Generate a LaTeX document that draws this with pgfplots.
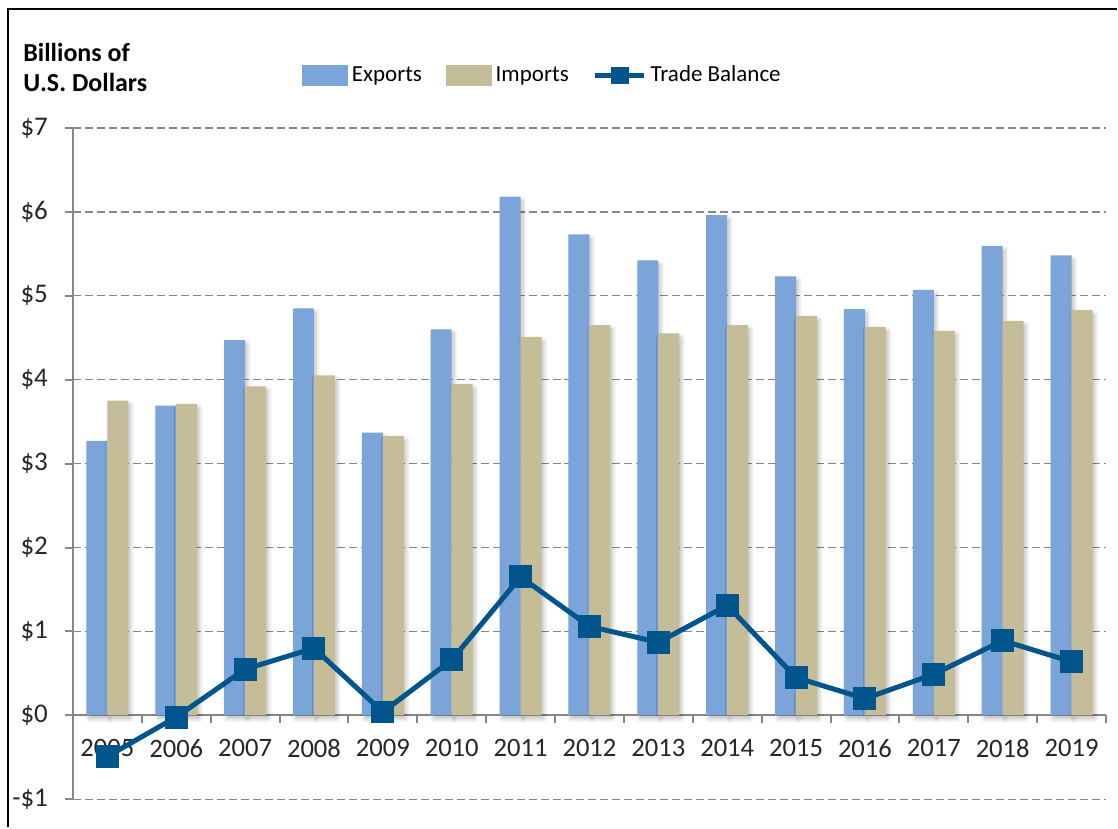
\documentclass[border=0pt]{standalone}
\usepackage{pgfplots}
\pgfplotsset{compat=1.18}
\usepackage{pgfplotstable}
\usetikzlibrary{shadows.blur}
\usepackage{fontspec}
\setmainfont{Carlito}
\definecolor{expc}{HTML}{7BA5D9}
\definecolor{impc}{HTML}{C4BD97}
\definecolor{balc}{HTML}{00558C}
\definecolor{axc}{HTML}{878787}
\pgfplotstableread{
x exp imp bal
0 3.27 3.75 -0.49
1 3.69 3.71 -0.02
2 4.47 3.92 0.55
3 4.85 4.05 0.80
4 3.37 3.33 0.04
5 4.60 3.95 0.66
6 6.18 4.51 1.65
7 5.73 4.65 1.06
8 5.42 4.55 0.87
9 5.96 4.65 1.31
10 5.23 4.76 0.45
11 4.84 4.63 0.20
12 5.07 4.58 0.49
13 5.59 4.70 0.89
14 5.48 4.83 0.64
}\datatable
\tikzset{barshadow/.style={blur shadow={shadow xshift=1.2pt, shadow yshift=-1.8pt, shadow blur radius=2pt, shadow blur steps=6, shadow opacity=25}}}
\begin{document}
\begin{tikzpicture}
\begin{axis}[
  at={(0,0)}, anchor=south west,
  width=517pt, height=336pt, scale only axis,
  xmin=-0.5, xmax=14.5, ymin=-1, ymax=7,
  axis x line=middle, axis y line=left,
  axis line style={-, draw=axc, line width=1pt},
  hide obscured x ticks=false, hide obscured y ticks=false,
  tick align=outside,
  major tick length=4pt,
  tick style={draw=axc, line width=1pt},
  xtick={-0.5,0.5,...,14.5}, xticklabels={},
  extra x ticks={0,1,...,14},
  extra x tick labels={2005,2006,2007,2008,2009,2010,2011,2012,2013,2014,2015,2016,2017,2018,2019},
  extra x tick style={major tick length=0pt, grid=none},
  xticklabel style={font=\fontsize{13.3}{15}\selectfont, yshift=-8.5pt, text=black!85},
  ytick={-1,0,...,7},
  yticklabels={-\$1,\$0,\$1,\$2,\$3,\$4,\$5,\$6,\$7},
  yticklabel style={font=\fontsize{13.5}{15}\selectfont, xshift=-5pt, text=black!85},
  ymajorgrids,
  grid style={draw=axc, line width=0.75pt, dash pattern=on 4pt off 2pt},
  clip=false,
  legend columns=3,
  legend style={at={(0.2215,1.078)}, anchor=west, draw=none, fill=none,
    font=\fontsize{11.5}{13}\selectfont, inner sep=0pt,
    /tikz/every even column/.append style={column sep=10pt}},
  legend cell align=left,
]
\addplot[ybar, bar width=10.5pt, bar shift=-5.25pt, fill=expc, draw=none, barshadow, forget plot]
  table[x=x, y=exp] {\datatable};
\addplot[ybar, bar width=10.5pt, bar shift=5.25pt, fill=impc, draw=none, barshadow, forget plot]
  table[x=x, y=imp] {\datatable};
\addplot[sharp plot, draw=balc, line width=2.5pt, mark=square*, mark size=5.5pt,
  mark options={fill=balc, draw=balc, line width=0pt}, forget plot]
  table[x=x, y=bal] {\datatable};
\addlegendimage{legend image code/.code={\fill[expc] (0pt,-5pt) rectangle (22.5pt,5pt);}}
\addlegendentry{Exports}
\addlegendimage{legend image code/.code={\fill[impc] (0pt,-5pt) rectangle (22.5pt,5pt);}}
\addlegendentry{Imports}
\addlegendimage{legend image code/.code={\draw[balc, line width=2.5pt] (0pt,0pt) -- (24.5pt,0pt);
     \fill[balc] (8.1pt,-4.2pt) rectangle (16.4pt,4.2pt);}}
\addlegendentry{Trade Balance}
\end{axis}
\pgfresetboundingbox
\path (-36.5pt,-14pt) rectangle (522.5pt,400pt);
\draw[line width=1pt] (-32.5pt,-14pt) -- (-32.5pt,395.5pt) -- (522.5pt,395.5pt);
\node[anchor=base west, inner sep=0pt, font=\fontsize{13}{15}\selectfont\bfseries] at (-25pt,369pt) {Billions of};
\node[anchor=base west, inner sep=0pt, font=\fontsize{13}{15}\selectfont\bfseries] at (-25pt,354pt) {U.S. Dollars};
\end{tikzpicture}
\end{document}
